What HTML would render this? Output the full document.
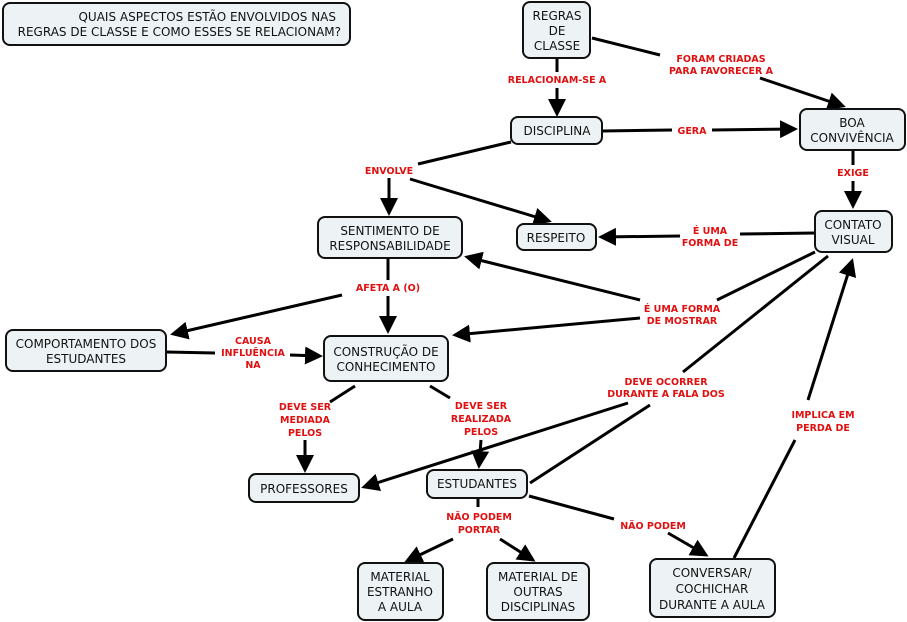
<!DOCTYPE html>
<html><head><meta charset="utf-8"><style>
body{margin:0;background:#fff}
svg{display:block}
.n{fill:#edf3f5;stroke:#111;stroke-width:2}
.t{font-family:"DejaVu Sans","Liberation Sans",sans-serif;font-size:12px;fill:#111;text-anchor:middle}
.l{font-family:"DejaVu Sans","Liberation Sans",sans-serif;font-size:9.5px;font-weight:bold;fill:#e01010;text-anchor:middle}
.c{stroke:#000;stroke-width:3;fill:none}
</style></head><body>
<svg width="907" height="622" viewBox="0 0 907 622" xmlns="http://www.w3.org/2000/svg">
<defs><marker id="a" markerWidth="6" markerHeight="6" refX="5" refY="3" orient="auto" markerUnits="strokeWidth"><path d="M0,0 L6,3 L0,6 z" fill="#000"/></marker></defs>
<!-- connectors -->
<g class="c">
<line x1="557" y1="58" x2="557" y2="72"/>
<line x1="557" y1="88" x2="557" y2="114" marker-end="url(#a)"/>
<line x1="592" y1="38" x2="660" y2="55"/>
<line x1="760" y1="78" x2="843" y2="106" marker-end="url(#a)"/>
<line x1="602" y1="131" x2="672" y2="130"/>
<line x1="712" y1="130" x2="795" y2="129" marker-end="url(#a)"/>
<line x1="853" y1="150" x2="853" y2="165"/>
<line x1="853" y1="181" x2="853" y2="206" marker-end="url(#a)"/>
<line x1="815" y1="233" x2="740" y2="234"/>
<line x1="680" y1="236" x2="601" y2="237" marker-end="url(#a)"/>
<line x1="511" y1="142" x2="418" y2="164"/>
<line x1="389" y1="178" x2="389" y2="213" marker-end="url(#a)"/>
<line x1="410" y1="179" x2="549" y2="221" marker-end="url(#a)"/>
<line x1="388" y1="258" x2="388" y2="280"/>
<line x1="342" y1="295" x2="173" y2="334" marker-end="url(#a)"/>
<line x1="388" y1="296" x2="388" y2="331" marker-end="url(#a)"/>
<line x1="166" y1="352" x2="215" y2="353"/>
<line x1="290" y1="355" x2="320" y2="356" marker-end="url(#a)"/>
<line x1="815" y1="252" x2="717" y2="300"/>
<line x1="640" y1="300" x2="467" y2="257" marker-end="url(#a)"/>
<line x1="640" y1="318" x2="455" y2="335" marker-end="url(#a)"/>
<line x1="828" y1="256" x2="683" y2="372"/>
<line x1="628" y1="403" x2="364" y2="487" marker-end="url(#a)"/>
<line x1="650" y1="405" x2="530" y2="483"/>
<line x1="355" y1="386" x2="330" y2="402"/>
<line x1="305" y1="440" x2="305" y2="470" marker-end="url(#a)"/>
<line x1="430" y1="386" x2="450" y2="398"/>
<line x1="481" y1="440" x2="479" y2="466" marker-end="url(#a)"/>
<line x1="478" y1="499" x2="478" y2="507"/>
<line x1="453" y1="539" x2="407" y2="561" marker-end="url(#a)"/>
<line x1="500" y1="539" x2="533" y2="560" marker-end="url(#a)"/>
<line x1="529" y1="496" x2="614" y2="519"/>
<line x1="668" y1="533" x2="706" y2="555" marker-end="url(#a)"/>
<line x1="734" y1="558" x2="795" y2="440"/>
<line x1="808" y1="400" x2="852" y2="261" marker-end="url(#a)"/>
</g>
<!-- nodes -->
<rect class="n" x="3" y="3" width="347" height="42" rx="7"/>
<text class="t" x="336" y="21" text-anchor="end" style="text-anchor:end">QUAIS ASPECTOS ESTÃO ENVOLVIDOS NAS</text>
<text class="t" x="341" y="36" style="text-anchor:end">REGRAS DE CLASSE E COMO ESSES SE RELACIONAM?</text>
<rect class="n" x="523" y="2" width="67" height="56" rx="7"/>
<text class="t" x="557" y="20">REGRAS</text><text class="t" x="557" y="35">DE</text><text class="t" x="557" y="50">CLASSE</text>
<rect class="n" x="511" y="117" width="91" height="27" rx="7"/>
<text class="t" x="557" y="135">DISCIPLINA</text>
<rect class="n" x="800" y="109" width="105" height="41" rx="7"/>
<text class="t" x="852" y="127">BOA</text><text class="t" x="852" y="142">CONVIVÊNCIA</text>
<rect class="n" x="815" y="211" width="77" height="41" rx="7"/>
<text class="t" x="853" y="229">CONTATO</text><text class="t" x="853" y="244">VISUAL</text>
<rect class="n" x="517" y="224" width="79" height="26" rx="7"/>
<text class="t" x="556" y="242">RESPEITO</text>
<rect class="n" x="318" y="217" width="144" height="41" rx="7"/>
<text class="t" x="390" y="235">SENTIMENTO DE</text><text class="t" x="390" y="250">RESPONSABILIDADE</text>
<rect class="n" x="6" y="330" width="160" height="41" rx="7"/>
<text class="t" x="86" y="348">COMPORTAMENTO DOS</text><text class="t" x="86" y="363">ESTUDANTES</text>
<rect class="n" x="324" y="336" width="124" height="45" rx="7"/>
<text class="t" x="386" y="356">CONSTRUÇÃO DE</text><text class="t" x="386" y="371">CONHECIMENTO</text>
<rect class="n" x="249" y="474" width="110" height="28" rx="7"/>
<text class="t" x="304" y="493">PROFESSORES</text>
<rect class="n" x="427" y="470" width="100" height="28" rx="7"/>
<text class="t" x="477" y="488">ESTUDANTES</text>
<rect class="n" x="358" y="563" width="85" height="57" rx="7"/>
<text class="t" x="400" y="581">MATERIAL</text><text class="t" x="400" y="596">ESTRANHO</text><text class="t" x="400" y="611">A AULA</text>
<rect class="n" x="487" y="563" width="102" height="57" rx="7"/>
<text class="t" x="538" y="581">MATERIAL DE</text><text class="t" x="538" y="596">OUTRAS</text><text class="t" x="538" y="611">DISCIPLINAS</text>
<rect class="n" x="650" y="559" width="125" height="58" rx="7"/>
<text class="t" x="712" y="577">CONVERSAR/</text><text class="t" x="712" y="593">COCHICHAR</text><text class="t" x="712" y="609">DURANTE A AULA</text>
<!-- labels -->
<text class="l" x="557" y="83">RELACIONAM-SE A</text>
<text class="l" x="721" y="62">FORAM CRIADAS</text><text class="l" x="721" y="74">PARA FAVORECER A</text>
<text class="l" x="692" y="134">GERA</text>
<text class="l" x="853" y="176">EXIGE</text>
<text class="l" x="710" y="234">É UMA</text><text class="l" x="710" y="246">FORMA DE</text>
<text class="l" x="389" y="174">ENVOLVE</text>
<text class="l" x="388" y="291">AFETA A (O)</text>
<text class="l" x="253" y="344">CAUSA</text><text class="l" x="253" y="356">INFLUÊNCIA</text><text class="l" x="253" y="368">NA</text>
<text class="l" x="682" y="312">É UMA FORMA</text><text class="l" x="682" y="324">DE MOSTRAR</text>
<text class="l" x="666" y="385">DEVE OCORRER</text><text class="l" x="666" y="397">DURANTE A FALA DOS</text>
<text class="l" x="305" y="410">DEVE SER</text><text class="l" x="305" y="423">MEDIADA</text><text class="l" x="305" y="436">PELOS</text>
<text class="l" x="481" y="409">DEVE SER</text><text class="l" x="481" y="422">REALIZADA</text><text class="l" x="481" y="435">PELOS</text>
<text class="l" x="479" y="520">NÃO PODEM</text><text class="l" x="479" y="533">PORTAR</text>
<text class="l" x="653" y="529">NÃO PODEM</text>
<text class="l" x="823" y="418">IMPLICA EM</text><text class="l" x="823" y="431">PERDA DE</text>
</svg>
</body></html>
